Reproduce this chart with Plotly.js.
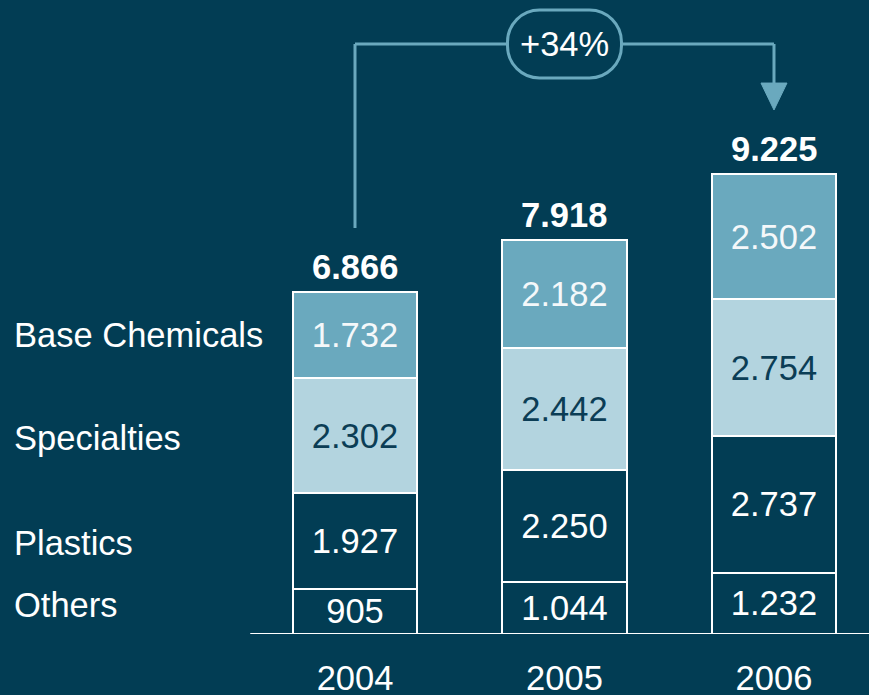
<!DOCTYPE html>
<html>
<head>
<meta charset="utf-8">
<script src="https://cdn.plot.ly/plotly-3.0.1.min.js"></script>
<style>html,body{margin:0;padding:0;background:#023d54;}#chart{width:869px;height:695px;}</style>
</head>
<body>
<div id="chart"></div>
<script>
// ---- data ----
var years = ['2004', '2005', '2006'];
var others = [905, 1044, 1232];
var plastics = [1927, 2250, 2737];
var specialties = [2302, 2442, 2754];
var baseChemicals = [1732, 2182, 2502];
var seriesNames = ['Others', 'Plastics', 'Specialties', 'Base Chemicals'];
var totals = [6866, 7918, 9225];

var BG = '#023d54';
var MID = '#6aa9be';
var LIGHT = '#b3d4df';
var FONT = 'Liberation Sans, Arial, sans-serif';
var FS = 34.5;

var xs = years.map(function (_, i) { return i; });
var seriesVals = [others, plastics, specialties, baseChemicals];
var fills = [BG, BG, LIGHT, MID];
var textCols = ['#ffffff', '#ffffff', '#0b3d55', '#f4f8fa'];
var labelShift = [6, -2, -2, 0];

var traces = seriesVals.map(function (vals, k) {
  return {
    type: 'bar', x: xs, y: vals, name: seriesNames[k],
    width: 0.592,
    marker: { color: fills[k], line: { color: '#ffffff', width: 2 } },
    texttemplate: '%{y:,}', textposition: 'inside', insidetextanchor: 'middle',
    constraintext: 'none',
    insidetextfont: { family: FONT, size: FS, color: textCols[k] },
    hoverinfo: 'skip', showlegend: false
  };
});

var fmt = function (v) { return String(v).replace(/\B(?=(\d{3})+(?!\d))/g, '.'); };

var annotations = [];
totals.forEach(function (t, i) {
  annotations.push({ x: i, y: t, xref: 'x', yref: 'y', text: '<b>' + fmt(t) + '</b>',
    showarrow: false, yanchor: 'middle', yshift: 25,
    font: { family: FONT, size: FS, color: '#ffffff' } });
});
// row labels aligned with the 2004 segments
var cum = 0;
seriesVals.forEach(function (vals, k) {
  var mid = cum + vals[0] / 2;
  cum += vals[0];
  annotations.push({ x: 12 / 869, xref: 'paper', y: mid, yref: 'y', text: seriesNames[k],
    showarrow: false, xanchor: 'left', yanchor: 'middle', yshift: labelShift[k],
    font: { family: FONT, size: FS, color: '#ffffff' } });
});
var growth = Math.round((totals[2] / totals[0] - 1) * 100);
var pillY = 0.9306;
annotations.push({ x: 1, xref: 'x', y: pillY, yref: 'paper', text: '+' + growth + '%',
  showarrow: false, xanchor: 'center', yanchor: 'middle',
  font: { family: FONT, size: FS, color: '#ffffff' } });

// pill path
var pw = 0.272, ph = 34 / 634, rx = 32 / 209.5, ry = 32 / 634, kk = 0.5523;
var L = 1 - pw, R = 1 + pw, T = pillY + ph, B = pillY - ph;
var pill = 'M ' + (L + rx) + ',' + T +
  ' L ' + (R - rx) + ',' + T +
  ' C ' + (R - rx + rx * kk) + ',' + T + ' ' + R + ',' + (T - ry + ry * kk) + ' ' + R + ',' + (T - ry) +
  ' L ' + R + ',' + (B + ry) +
  ' C ' + R + ',' + (B + ry - ry * kk) + ' ' + (R - rx + rx * kk) + ',' + B + ' ' + (R - rx) + ',' + B +
  ' L ' + (L + rx) + ',' + B +
  ' C ' + (L + rx - rx * kk) + ',' + B + ' ' + L + ',' + (B + ry - ry * kk) + ' ' + L + ',' + (B + ry) +
  ' L ' + L + ',' + (T - ry) +
  ' C ' + L + ',' + (T - ry + ry * kk) + ' ' + (L + rx - rx * kk) + ',' + T + ' ' + (L + rx) + ',' + T + ' Z';

var aw = 13 / 209.5;
var shapes = [
  { type: 'line', xref: 'x', yref: 'y', x0: -0.5, x1: 2.5, y0: 0, y1: 0, line: { color: '#ffffff', width: 2 } },
  { type: 'line', xref: 'x', yref: 'paper', x0: 0, x1: 0, y0: 0.6404, y1: pillY, line: { color: MID, width: 3 } },
  { type: 'line', xref: 'x', yref: 'paper', x0: 0, x1: 2, y0: pillY, y1: pillY, line: { color: MID, width: 3 } },
  { type: 'line', xref: 'x', yref: 'paper', x0: 2, x1: 2, y0: pillY, y1: 0.86, line: { color: MID, width: 3 } },
  { type: 'path', xref: 'x', yref: 'paper', path: 'M ' + (2 - aw) + ',0.869 L ' + (2 + aw) + ',0.869 L 2,0.8265 Z',
    fillcolor: MID, line: { color: MID, width: 1 } },
  { type: 'path', xref: 'x', yref: 'paper', path: pill, fillcolor: BG, line: { color: MID, width: 3 } }
];

var layout = {
  width: 869, height: 695,
  margin: { l: 0, r: 0, t: 0, b: 61, pad: 0 },
  paper_bgcolor: BG, plot_bgcolor: BG,
  barmode: 'stack', separators: ',.',
  font: { family: FONT, color: '#ffffff' },
  xaxis: { range: [-1.6945, 2.4535], tickvals: xs, ticktext: years, showgrid: false, zeroline: false,
    showline: false, ticks: '', ticklabelstandoff: 20, tickfont: { family: FONT, size: FS, color: '#ffffff' }, fixedrange: true },
  yaxis: { range: [0, 12728], visible: false, fixedrange: true },
  shapes: shapes, annotations: annotations
};

Plotly.newPlot('chart', traces, layout, { displayModeBar: false, staticPlot: true });
</script>
</body>
</html>
